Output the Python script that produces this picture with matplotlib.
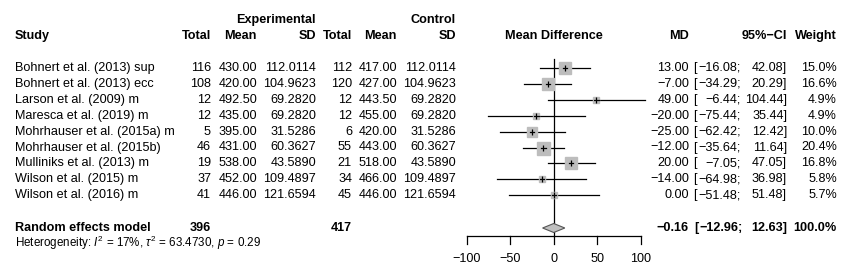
import numpy as np
import matplotlib.pyplot as plt

plt.rcParams['font.family'] = ['Liberation Sans', 'DejaVu Sans']
plt.rcParams['mathtext.fontset'] = 'custom'
plt.rcParams['mathtext.rm'] = 'Liberation Sans'
plt.rcParams['mathtext.it'] = 'Liberation Sans:italic'

# study data
studies = ['Bohnert et al. (2013) sup', 'Bohnert et al. (2013) ecc', 'Larson et al. (2009) m',
           'Maresca et al. (2019) m', 'Mohrhauser et al. (2015a) m', 'Mohrhauser et al. (2015b)',
           'Mulliniks et al. (2013) m', 'Wilson et al. (2015) m', 'Wilson et al. (2016) m']
n_exp = [116, 108, 12, 12, 5, 46, 19, 37, 41]
mean_exp = [430.00, 420.00, 492.50, 435.00, 395.00, 431.00, 538.00, 452.00, 446.00]
sd_exp = [112.0114, 104.9623, 69.2820, 69.2820, 31.5286, 60.3627, 43.5890, 109.4897, 121.6594]
n_ctrl = [112, 120, 12, 12, 6, 55, 21, 34, 45]
mean_ctrl = [417.00, 427.00, 443.50, 455.00, 420.00, 443.00, 518.00, 466.00, 446.00]
sd_ctrl = [112.0114, 104.9623, 69.2820, 69.2820, 31.5286, 60.3627, 43.5890, 109.4897, 121.6594]
md = [13.00, -7.00, 49.00, -20.00, -25.00, -12.00, 20.00, -14.00, 0.00]
ci_low = [-16.08, -34.29, -6.44, -75.44, -62.42, -35.64, -7.05, -64.98, -51.48]
ci_high = [42.08, 20.29, 104.44, 35.44, 12.42, 11.64, 47.05, 36.98, 51.48]
weight = [15.0, 16.6, 4.9, 4.9, 10.0, 20.4, 16.8, 5.8, 5.7]

# pooled
pooled_md = -0.16
pooled_low = -12.96
pooled_high = 12.63
total_exp = 396
total_ctrl = 417
xticks = [-100, -50, 0, 50, 100]


def m(v):
    return ('%.2f' % v).replace('-', '\u2212')


W, H = 853, 280
fig = plt.figure(figsize=(W / 100, H / 100), dpi=100)
fig.patch.set_facecolor('white')

# text layer in pixel coords
axt = fig.add_axes([0, 0, 1, 1])
axt.set_xlim(0, W)
axt.set_ylim(H, 0)
axt.axis('off')

# forest layer, x in MD units, y in pixels
x0, x1 = 467, 640.7
ax = fig.add_axes([x0 / W, 0, (x1 - x0) / W, 1])
ax.set_xlim(-100, 100)
ax.set_ylim(H, 0)
ax.axis('off')

fs = 9.1
bold = dict(fontsize=fs, fontweight='bold')
norm = dict(fontsize=fs)

# CI column positions
br_x, lo_x, hi_x = 693, 741, 787

# headers
axt.text(316, 20, 'Experimental', ha='right', va='center', **bold)
axt.text(456, 20, 'Control', ha='right', va='center', **bold)
hy = 36
axt.text(15, hy, 'Study', ha='left', va='center', **bold)
for x, s in [(211, 'Total'), (257, 'Mean'), (316, 'SD'), (352, 'Total'), (397, 'Mean'),
             (456, 'SD'), (689, 'MD'), (hi_x, '95%\u2212CI'), (837, 'Weight')]:
    axt.text(x, hy, s, ha='right', va='center', **bold)
axt.text(553.5, hy, 'Mean Difference', ha='center', va='center', **bold)

row_y = 68 + np.arange(len(studies)) * 15.9

for i, y in enumerate(row_y):
    axt.text(15, y, studies[i], ha='left', va='center', **norm)
    axt.text(211, y, str(n_exp[i]), ha='right', va='center', **norm)
    axt.text(257, y, '%.2f' % mean_exp[i], ha='right', va='center', **norm)
    axt.text(316, y, '%.4f' % sd_exp[i], ha='right', va='center', **norm)
    axt.text(352, y, str(n_ctrl[i]), ha='right', va='center', **norm)
    axt.text(397, y, '%.2f' % mean_ctrl[i], ha='right', va='center', **norm)
    axt.text(456, y, '%.4f' % sd_ctrl[i], ha='right', va='center', **norm)
    axt.text(689, y, m(md[i]), ha='right', va='center', **norm)
    axt.text(br_x, y, '[', ha='left', va='center', **norm)
    axt.text(lo_x, y, m(ci_low[i]) + ';', ha='right', va='center', **norm)
    axt.text(hi_x, y, m(ci_high[i]) + ']', ha='right', va='center', **norm)
    axt.text(837, y, '%.1f%%' % weight[i], ha='right', va='center', **norm)

    # CI line, square and tick
    ax.plot([ci_low[i], ci_high[i]], [y, y], color='black', lw=0.9, clip_on=False, zorder=2)
    side = 13 * np.sqrt(weight[i] / 20.4)
    ax.plot([md[i]], [y], marker='s', ms=side * 0.72, mfc='#bdbdbd', mec='#bdbdbd',
            clip_on=False, zorder=3)
    ax.plot([md[i]], [y], marker='|', ms=4, color='black', mew=0.9, clip_on=False, zorder=4)
    ax.plot([md[i] - 2.5, md[i] + 2.5], [y, y], color='black', lw=0.9, clip_on=False, zorder=4)

# pooled row
ry = 228
axt.text(15, ry, 'Random effects model', ha='left', va='center', **bold)
axt.text(211, ry, str(total_exp), ha='right', va='center', **bold)
axt.text(352, ry, str(total_ctrl), ha='right', va='center', **bold)
axt.text(689, ry, m(pooled_md), ha='right', va='center', **bold)
axt.text(br_x + 1, ry, '[', ha='left', va='center', **bold)
axt.text(lo_x + 2, ry, m(pooled_low) + ';', ha='right', va='center', **bold)
axt.text(hi_x, ry, m(pooled_high) + ']', ha='right', va='center', **bold)
axt.text(837, ry, '100.0%', ha='right', va='center', **bold)
axt.text(15, 243, r'Heterogeneity: $I^2$ = 17%, $\tau^2$ = 63.4730, $p$ = 0.29',
         ha='left', va='center', fontsize=8.4)

ax.fill([pooled_low, pooled_md, pooled_high, pooled_md],
        [ry, ry - 4.5, ry, ry + 4.5], facecolor='#c0c0c0', edgecolor='#555555',
        lw=0.8, zorder=3)

# zero line and axis
axis_y = 235.5
ax.plot([0, 0], [59, axis_y], color='black', lw=0.9, zorder=1)
ax.plot([xticks[0], xticks[-1]], [axis_y, axis_y], color='black', lw=0.9, clip_on=False)
for t in xticks:
    ax.plot([t, t], [axis_y, axis_y + 8], color='black', lw=0.9, clip_on=False)
    ax.text(t, 259, str(t).replace('-', '\u2212'), ha='center', va='center', fontsize=fs)

fig.savefig('out.png', dpi=100)
